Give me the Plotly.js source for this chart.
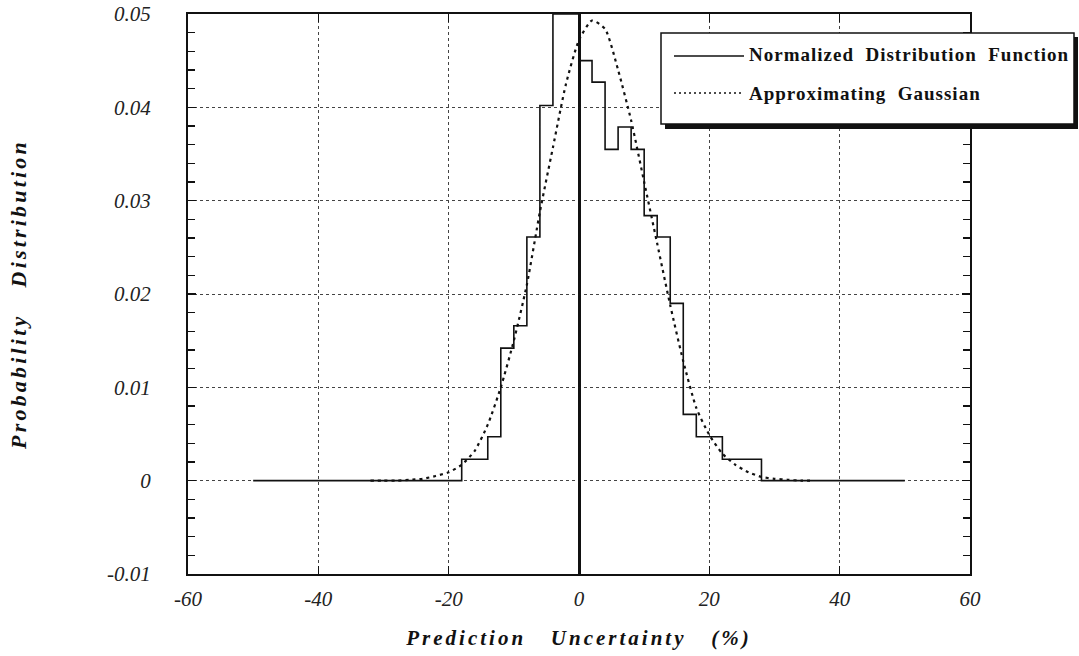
<!DOCTYPE html>
<html>
<head>
<meta charset="utf-8">
<script src="https://cdn.plot.ly/plotly-3.0.1.min.js"></script>
<style>
  html, body { margin: 0; padding: 0; background: #fff; }
  #chart { width: 1079px; height: 656px; }
</style>
</head>
<body>
<div id="chart"></div>
<script>
// ---- data ----
const binEdges  = [-50, -18, -14, -12, -10, -8, -6, -4, -2, 0, 2, 4, 6, 8, 10, 12, 14, 16, 18, 22, 28, 50];
const binValues = [0, 0.0023, 0.0047, 0.0142, 0.0166, 0.0261, 0.0402, 0.050, 0.050, 0.0450, 0.0427,
                   0.0355, 0.0379, 0.0355, 0.0284, 0.0261, 0.0190, 0.0071, 0.0047, 0.0023, 0];

const gaussX = [-32, -30, -28, -26, -24, -22, -20, -18, -16, -14, -12, -10, -8, -6, -4, -2, 0,
                2, 4, 6, 8, 10, 12, 14, 16, 18, 20, 22, 24, 26, 28, 30, 32, 34, 36];
const gaussY = [0, 0, 0, 0.0001, 0.0002, 0.0005, 0.0009, 0.0017, 0.0032, 0.0060, 0.0100, 0.0150,
                0.0210, 0.0288, 0.0357, 0.0425, 0.0472, 0.0493, 0.0484, 0.0440, 0.0386, 0.0320,
                0.0254, 0.0188, 0.0128, 0.0078, 0.0049, 0.0029, 0.0017, 0.0009, 0.0004, 0.0002,
                0.0001, 0, 0];

const xTickVals = [-60, -40, -20, 0, 20, 40, 60];
const xTickText = ['-60', '-40', '-20', '0', '20', '40', '60'];
const yTickVals = [-0.01, 0, 0.01, 0.02, 0.03, 0.04, 0.05];
const yTickText = ['-0.01', '0', '0.01', '0.02', '0.03', '0.04', '0.05'];

const seriesNames = ['Normalized\u00a0\u00a0Distribution\u00a0\u00a0Function', 'Approximating\u00a0\u00a0Gaussian'];
const xTitle = 'Prediction\u00a0\u00a0\u00a0Uncertainty\u00a0\u00a0\u00a0(%)';
const yTitle = 'Probability\u00a0\u00a0\u00a0Distribution';

// step trace (hv) from the bin edges
const stepY = binValues.concat([binValues[binValues.length - 1]]);

const serif = 'Liberation Serif, Times New Roman, serif';

const traces = [
  {
    x: binEdges, y: stepY, type: 'scatter', mode: 'lines',
    line: { shape: 'hv', color: '#111', width: 1.6 },
    name: seriesNames[0], hoverinfo: 'x+y'
  },
  {
    x: gaussX, y: gaussY, type: 'scatter', mode: 'lines',
    line: { shape: 'spline', smoothing: 0.6, color: '#111', width: 2.2, dash: '3px,4px' },
    name: seriesNames[1], hoverinfo: 'x+y'
  }
];

// legend box in pixel terms converted to paper coords
const L = 188, R = 970, T = 14, B = 574;
const px = v => (v - L) / (R - L);
const py = v => (B - v) / (B - T);

const layout = {
  width: 1079, height: 656,
  margin: { l: 188, r: 109, t: 14, b: 82 },
  paper_bgcolor: '#fff', plot_bgcolor: '#fff',
  showlegend: false,
  xaxis: {
    range: [-60, 60], tickmode: 'array', tickvals: xTickVals, ticktext: xTickText,
    ticks: 'inside', ticklen: 8, tickwidth: 1.5, tickcolor: '#111',
    showline: true, linecolor: '#111', linewidth: 2, mirror: 'ticks',
    showgrid: true, gridcolor: '#444', gridwidth: 1, griddash: 'dot',
    zeroline: true, zerolinecolor: '#111', zerolinewidth: 3,
    tickfont: { family: serif, size: 21, style: 'italic', color: '#222' },
    ticklabelstandoff: 5,
    title: { text: xTitle, font: { family: serif, size: 21, weight: 'bold', style: 'italic', color: '#111' }, standoff: 20 },
    automargin: false
  },
  yaxis: {
    range: [-0.01, 0.05], tickmode: 'array', tickvals: yTickVals, ticktext: yTickText,
    ticks: 'inside', ticklen: 8, tickwidth: 1.5, tickcolor: '#111',
    minor: { tickmode: 'linear', tick0: 0, dtick: 0.002, ticks: 'inside', ticklen: 7, tickwidth: 1.5, tickcolor: '#111', showgrid: false },
    showline: true, linecolor: '#111', linewidth: 2, mirror: 'ticks',
    showgrid: true, gridcolor: '#444', gridwidth: 1, griddash: 'dot',
    zeroline: false,
    tickfont: { family: serif, size: 21, style: 'italic', color: '#222' },
    ticklabelstandoff: 31,
    title: { text: yTitle, font: { family: serif, size: 22, weight: 'bold', style: 'italic', color: '#111' }, standoff: 74 },
    automargin: false
  },
  shapes: [
    // shadow
    { type: 'rect', xref: 'paper', yref: 'paper', x0: px(665), x1: px(1078), y0: py(129), y1: py(37),
      fillcolor: '#111', line: { width: 0 }, layer: 'above' },
    // box
    { type: 'rect', xref: 'paper', yref: 'paper', x0: px(661), x1: px(1074), y0: py(124), y1: py(33),
      fillcolor: '#fff', line: { color: '#111', width: 1.5 }, layer: 'above' },
    // legend samples
    { type: 'line', xref: 'paper', yref: 'paper', x0: px(674), x1: px(744), y0: py(56), y1: py(56),
      line: { color: '#111', width: 1.5 }, layer: 'above' },
    { type: 'line', xref: 'paper', yref: 'paper', x0: px(674), x1: px(742), y0: py(93), y1: py(93),
      line: { color: '#111', width: 1.5, dash: '2px,3px' }, layer: 'above' }
  ],
  annotations: [
    { xref: 'paper', yref: 'paper', x: px(747), y: py(55), xanchor: 'left', yanchor: 'middle',
      text: seriesNames[0], showarrow: false,
      font: { family: serif, size: 19, weight: 'bold', color: '#111' } },
    { xref: 'paper', yref: 'paper', x: px(747), y: py(93), xanchor: 'left', yanchor: 'middle',
      text: seriesNames[1], showarrow: false,
      font: { family: serif, size: 19, weight: 'bold', color: '#111' } }
  ]
};

function spaceOut(el, ls) {
  // widen letter spacing while keeping the text's left edge where Plotly put it
  const w0 = el.getComputedTextLength();
  el.setAttribute('letter-spacing', ls);
  const w1 = el.getComputedTextLength();
  const x = parseFloat(el.getAttribute('x') || '0');
  el.setAttribute('x', x + (w1 - w0) / 2);
}

Plotly.newPlot('chart', traces, layout, { displayModeBar: false, staticPlot: true }).then(function () {
  document.querySelectorAll('.xtitle').forEach(function (e) { e.setAttribute('letter-spacing', '3'); });
  document.querySelectorAll('.ytitle').forEach(function (e) { e.setAttribute('letter-spacing', '3.2'); });
  document.querySelectorAll('.annotation-text').forEach(function (e) { spaceOut(e, '1'); });
});
</script>
</body>
</html>
